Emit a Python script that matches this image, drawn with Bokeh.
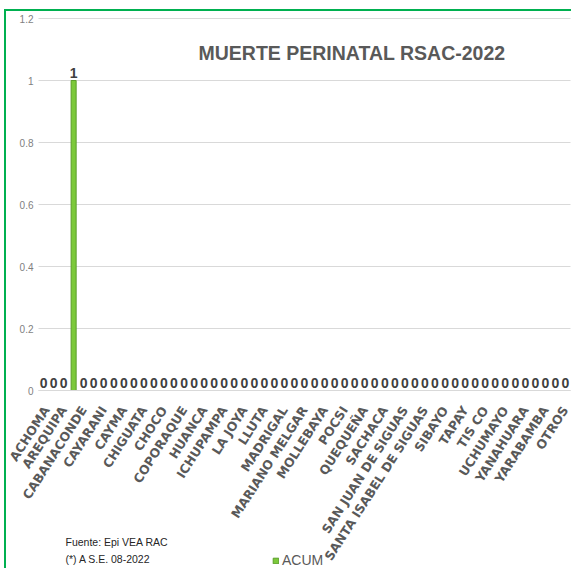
from bokeh.plotting import figure
from bokeh.models import (Range1d, FixedTicker, Label, Legend, LegendItem,
                          ColumnDataSource, NumeralTickFormatter)
from bokeh.core.properties import value
from bokeh.embed import file_html
from bokeh.resources import INLINE

# ---------------- data ----------------
districts = [
    "ACHOMA", "ALTO SELVA ALEGRE", "AREQUIPA", "AYO", "CABANACONDE", "CALLALLI",
    "CAYARANI", "CAYLLOMA", "CAYMA", "CERRO COLORADO", "CHIGUATA", "CHIVAY",
    "CHOCO", "CHUQUIBAMBA", "COPORAQUE", "HUAMBO", "HUANCA", "HUNTER",
    "ICHUPAMPA", "JOSE LUIS BUSTAMANTE Y RIVERO", "LA JOYA", "LARI", "LLUTA", "MACA",
    "MADRIGAL", "MAJES", "MARIANO MELGAR", "MIRAFLORES", "MOLLEBAYA", "PAUCARPATA",
    "POCSI", "POLOBAYA", "QUEQUEÑA", "SABANDIA", "SACHACA", "SAN ANTONIO DE CHUCA",
    "SAN JUAN DE SIGUAS", "SAN JUAN DE TARUCANI", "SANTA ISABEL DE SIGUAS",
    "SANTA RITA DE SIGUAS", "SIBAYO", "SOCABAYA", "TAPAY", "TIABAYA", "TIS CO",
    "TUTI", "UCHUMAYO", "VITOR", "YANAHUARA", "YANQUE", "YARABAMBA", "YURA", "OTROS",
]
acum = [0, 0, 0, 1] + [0] * 49
y_ticks = [0, 0.2, 0.4, 0.6, 0.8, 1, 1.2]
title_text = "MUERTE PERINATAL RSAC-2022"
source_lines = ["Fuente: Epi VEA RAC", "(*) A S.E. 08-2022"]
series_name = "ACUM"

FONT = "Liberation Sans"
GRAY = "#595959"

n = len(districts)
idx = list(range(n))
src = ColumnDataSource(data=dict(x=idx, v=acum, lbl=[str(v) for v in acum]))

# ---------------- layout (pixels) ----------------
W, H = 567, 559              # canvas size
plot_left, plot_w = 32, 532  # value area inside canvas
zero_y, top_y = 379, 7       # canvas y of value 0 and of value 1.2 (from top)
px_cat = plot_w / n
px_val = (zero_y - top_y) / 1.2
x_start = -0.5 - plot_left / px_cat
x_end = x_start + W / px_cat
y_max = 1.2 + top_y / px_val
y_min = y_max - H / px_val

p = figure(x_range=Range1d(x_start, x_end), y_range=Range1d(y_min, y_max),
           width=W, height=H, output_backend="svg", toolbar_location=None,
           min_border_left=0, min_border_right=0, min_border_top=0, min_border_bottom=0)
p.styles = {"margin-left": "4px", "margin-top": "9px",
            "border-left": "2px solid #00B050", "border-top": "2px solid #00B050"}
p.outline_line_color = None

bars = p.vbar(x="x", top="v", width=0.5, source=src,
              fill_color="#7CC93A", line_color="#5B9E2A", line_width=1)

p.text(x="x", y="v", text="lbl", source=src, text_align="center",
       text_baseline="alphabetic", y_offset=-8,
       text_font=value(FONT), text_font_style="bold", text_font_size="14px",
       text_color="#404040")

# grid / axes
p.xgrid.visible = False
p.ygrid.grid_line_color = "#D9D9D9"
p.ygrid.ticker = FixedTicker(ticks=y_ticks)
try:
    p.ygrid[0].cross_bounds = (-0.5, n - 0.5)
except Exception:
    pass

p.yaxis.fixed_location = -0.5
p.yaxis.ticker = FixedTicker(ticks=y_ticks)
p.yaxis.formatter = NumeralTickFormatter(format="0.[0]")
p.yaxis.axis_line_color = None
p.yaxis.major_tick_line_color = None
p.yaxis.minor_tick_line_color = None
p.yaxis.major_tick_out = 0
p.yaxis.major_tick_in = 0
p.yaxis.minor_tick_out = 0
p.yaxis.major_label_text_font = FONT
p.yaxis.major_label_text_font_size = "10px"
p.yaxis.major_label_text_color = "#7F7F7F"
p.yaxis.major_label_standoff = 5

p.xaxis.fixed_location = 0
p.xaxis.bounds = (-0.5, n - 0.5)
p.xaxis.ticker = FixedTicker(ticks=idx[::2])
p.xaxis.major_label_overrides = {i: districts[i] for i in idx[::2]}
p.xaxis.axis_line_color = "#D9D9D9"
p.xaxis.major_tick_line_color = None
p.xaxis.minor_tick_line_color = None
p.xaxis.major_tick_out = 0
p.xaxis.major_tick_in = 0
p.xaxis.minor_tick_out = 0
p.xaxis.major_label_orientation = 1.0
p.xaxis.major_label_text_font = "DejaVu Sans"
p.xaxis.major_label_text_font_style = "bold"
p.xaxis.major_label_text_font_size = "12.5px"
p.xaxis.major_label_text_color = GRAY
p.xaxis.major_label_standoff = 17

# title inside plot area
p.add_layout(Label(x=192, y=518, x_units="screen", y_units="screen", text=title_text,
                   text_font=FONT, text_font_style="bold", text_font_size="19.5px",
                   text_color=GRAY, text_baseline="alphabetic"))

# source notes
for i, line in enumerate(source_lines):
    p.add_layout(Label(x=59, y=29 - 17 * i, x_units="screen", y_units="screen", text=line,
                       text_font=FONT, text_font_size="10.5px", text_color="#262626",
                       text_baseline="alphabetic"))

legend = Legend(items=[LegendItem(label=series_name, renderers=[bars])],
                location=(266, 2), padding=0, margin=0, border_line_color=None,
                background_fill_alpha=0, glyph_width=7, glyph_height=7, label_standoff=3,
                label_text_font=FONT, label_text_font_size="14px", label_text_color=GRAY,
                label_height=14)
p.add_layout(legend)

open("out.html", "w").write(file_html(p, INLINE))
